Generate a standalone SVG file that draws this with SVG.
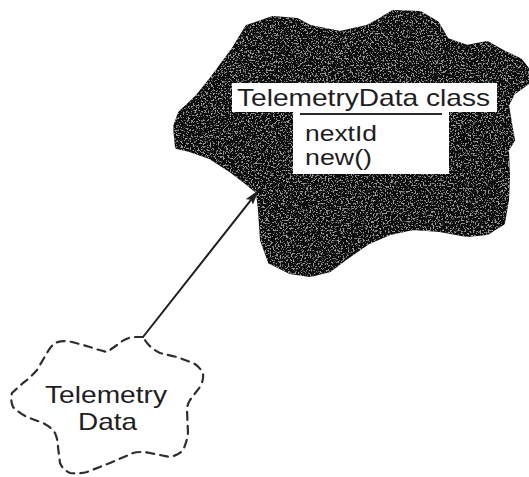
<svg xmlns="http://www.w3.org/2000/svg" width="529" height="477" viewBox="0 0 529 477">
  <style>
    .label { font-family: "Liberation Sans", Arial, sans-serif; fill: #1e1e1e; font-size: 24px; }
    .member { font-size: 22px; }
    .box { fill: #ffffff; stroke: none; }
    .dashed-cloud { fill: none; stroke: #2e2e2e; stroke-width: 2.2; stroke-dasharray: 8 6; stroke-linejoin: round; stroke-linecap: round; }
    .edge { fill: none; stroke: #1e1e1e; stroke-width: 2; }
  </style>
  <defs>
    <!-- speckled texture for the solid class cloud -->
    <filter id="grain" x="-2%" y="-2%" width="104%" height="104%">
      <feGaussianBlur in="SourceGraphic" stdDeviation="0.7" result="soft"/>
      <feTurbulence type="fractalNoise" baseFrequency="0.6" numOctaves="2" seed="7" result="noise"/>
      <feColorMatrix in="noise" type="matrix" values="0 0 0 0 0.33  0 0 0 0 0.33  0 0 0 0 0.33  9 0 0 0 -5.0" result="specks"/>
      <feComposite in="specks" in2="soft" operator="in" result="specksIn"/>
      <feMerge>
        <feMergeNode in="soft"/>
        <feMergeNode in="specksIn"/>
      </feMerge>
    </filter>
    <marker id="arrow" viewBox="0 0 15 9" markerWidth="15" markerHeight="9" refX="14" refY="4.5" orient="auto" markerUnits="userSpaceOnUse">
      <path d="M0,0 L15,4.5 L0,9 L3,4.5 z" fill="#1e1e1e"/>
    </marker>
  </defs>

  <rect width="529" height="477" fill="#ffffff"/>

  <!-- class object: solid cloud with class box -->
  <g id="telemetry-data-class">
    <polygon filter="url(#grain)" fill="#0c0c0c" stroke="#0c0c0c" stroke-width="4" stroke-linejoin="round"
      points="177,147 175,127 180,113 197,97 213,77 233,50 247,27 273,18 297,20 310,27 340,33 367,27 380,20 393,12 420,13 437,23 447,40 467,47 487,43 503,52 520,60 528,70 527,83 513,93 507,105 510,123 513,140 507,150 508,177 507,200 503,223 487,233 467,235 440,230 413,228 390,233 367,243 347,257 330,270 310,275 290,272 270,262 262,240 260,210 258,192 247,183 230,170 210,157 190,150"/>
    <rect class="box" x="232" y="83" width="265" height="29"/>
    <rect class="box" x="293" y="108" width="156" height="66"/>
    <line x1="300" y1="114" x2="442" y2="114" stroke="#2a2a2a" stroke-width="2.2"/>
    <text class="label" x="237" y="106" textLength="253" lengthAdjust="spacingAndGlyphs">TelemetryData class</text>
    <text class="label member" x="305" y="141" textLength="72" lengthAdjust="spacingAndGlyphs">nextId</text>
    <text class="label member" x="305" y="165" textLength="67" lengthAdjust="spacingAndGlyphs">new()</text>
  </g>

  <!-- instance object: dashed cloud -->
  <g id="telemetry-data">
    <path class="dashed-cloud" d="M143,337 L132,337 Q122,340 117,345 L107,352 Q98,350 90,347 L72,342 Q62,340 55,343 Q50,347 47,353 L37,370 Q30,378 23,383 L12,393 Q10,400 13,407 Q19,413 27,417 L43,423 Q51,427 55,433 Q58,440 58,447 L60,463 Q63,470 70,473 Q79,474 87,472 L110,463 L133,453 Q141,451 150,453 L170,457 Q179,455 183,450 Q187,442 188,433 L187,410 Q187,405 190,400 L200,387 Q204,380 203,373 Q199,366 193,363 L177,357 Q168,355 160,353 Q152,349 147,343 Z"/>
    <text class="label" x="45" y="403" textLength="122" lengthAdjust="spacingAndGlyphs">Telemetry</text>
    <text class="label" x="78" y="430" textLength="59" lengthAdjust="spacingAndGlyphs">Data</text>
  </g>

  <!-- instance-of connector -->
  <g id="connectors">
    <line class="edge" x1="143" y1="337" x2="258" y2="191" marker-end="url(#arrow)"/>
  </g>
</svg>
